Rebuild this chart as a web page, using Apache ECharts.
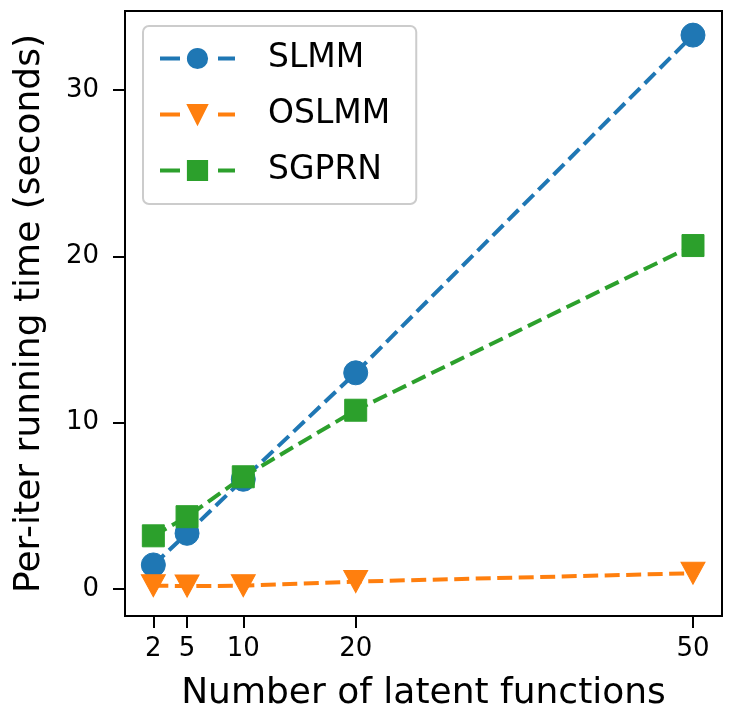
<!DOCTYPE html>
<html>
<head>
<meta charset="utf-8">
<script src="https://cdn.jsdelivr.net/npm/echarts@6/dist/echarts.min.js"></script>
<style>html,body{margin:0;padding:0;background:#fff;}#c{width:733px;height:717px;}</style>
</head>
<body>
<div id="c"></div>
<script>
var latentFunctions = [2, 5, 10, 20, 50];
var slmm = [1.45, 3.35, 6.6, 13.0, 33.3];
var oslmm = [0.2, 0.18, 0.2, 0.45, 0.95];
var sgprn = [3.2, 4.35, 6.75, 10.75, 20.65];
var xTicks = [2, 5, 10, 20, 50];
var yTicks = [0, 10, 20, 30];

function pairs(vals) { return latentFunctions.map(function (x, i) { return [x, vals[i]]; }); }

var FONT = 'DejaVu Sans';
var chart = echarts.init(document.getElementById('c'), null, {renderer: 'canvas'});

function mkSeries(name, vals, color, symbol, size, rot) {
  return {
    name: name, type: 'line', data: pairs(vals),
    symbol: symbol, symbolSize: size, symbolRotate: rot || 0,
    showSymbol: true, showAllSymbol: true,
    lineStyle: {color: color, width: 4, type: [15, 6.5]},
    itemStyle: {color: color, borderColor: color, borderWidth: 1},
    emphasis: {disabled: true}
  };
}

chart.setOption({
  animation: false,
  backgroundColor: '#ffffff',
  grid: {left: 125, top: 11, right: 11, bottom: 101, show: true, borderColor: '#000', borderWidth: 2, containLabel: false},
  legend: {
    orient: 'vertical', left: 143, top: 26,
    padding: [16, 26, 17, 15],
    itemWidth: 75, itemHeight: 24, itemGap: 23,
    backgroundColor: 'rgba(255,255,255,0.8)',
    borderColor: '#cccccc', borderWidth: 2, borderRadius: 6,
    textStyle: {fontFamily: FONT, fontSize: 33, color: '#000', padding: [0, 0, 0, 28]},
    lineStyle: {width: 4, type: [20, 38, 100]},
    data: ['SLMM', 'OSLMM', 'SGPRN']
  },
  xAxis: {
    type: 'value', min: -0.52, max: 52.58,
    name: 'Number of latent functions', nameLocation: 'middle', nameGap: 60,
    nameTextStyle: {fontFamily: FONT, fontSize: 36, color: '#000'},
    axisLine: {show: true, onZero: false, lineStyle: {color: '#000', width: 2}},
    axisTick: {show: true, length: 12, lineStyle: {color: '#000', width: 2}, customValues: xTicks},
    axisLabel: {fontFamily: FONT, fontSize: 26, color: '#000', margin: 20, customValues: xTicks},
    splitLine: {show: false}
  },
  yAxis: {
    type: 'value', min: -1.62, max: 34.75,
    name: 'Per-iter running time (seconds)', nameLocation: 'middle', nameGap: 77,
    nameTextStyle: {fontFamily: FONT, fontSize: 36, color: '#000'},
    axisLine: {show: true, onZero: false, lineStyle: {color: '#000', width: 2}},
    axisTick: {show: true, length: 12, lineStyle: {color: '#000', width: 2}, customValues: yTicks},
    axisLabel: {fontFamily: FONT, fontSize: 26, color: '#000', margin: 26, customValues: yTicks},
    splitLine: {show: false}
  },
  series: [
    mkSeries('SLMM', slmm, '#1f77b4', 'circle', 24),
    mkSeries('OSLMM', oslmm, '#ff7f0e', 'triangle', [24, 22], 180),
    mkSeries('SGPRN', sgprn, '#2ca02c', 'rect', 22)
  ]
});
</script>
</body>
</html>
